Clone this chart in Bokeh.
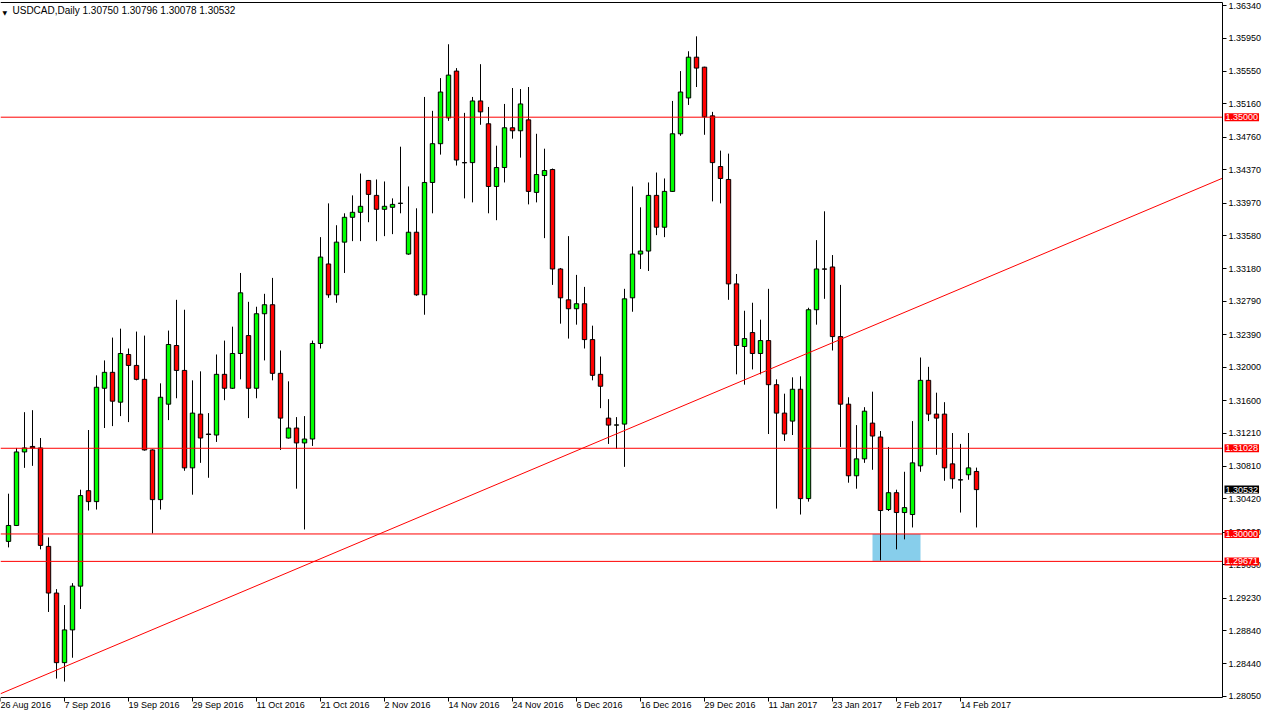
import pandas as pd
from bokeh.plotting import figure
from bokeh.models import FixedTicker, PrintfTickFormatter, Label, ColumnDataSource
from bokeh.embed import file_html
from bokeh.resources import INLINE

# ---------------- data ----------------
chart_title = "USDCAD,Daily  1.30750 1.30796 1.30078 1.30532"

opens = [1.29911, 1.30102, 1.30984, 1.31050, 1.31032, 1.29851, 1.29291, 1.28456, 1.28849, 1.29374,
         1.30519, 1.30388, 1.31748, 1.31939, 1.31581, 1.32153, 1.32022, 1.31855, 1.31008, 1.30412,
         1.31557, 1.32261, 1.31962, 1.30793, 1.31438, 1.31199, 1.31187, 1.31915, 1.31748, 1.32165,
         1.32380, 1.31748, 1.32642, 1.32750, 1.31927, 1.31151, 1.31271, 1.31092, 1.31139, 1.32285,
         1.33239, 1.32869, 1.33501, 1.33799, 1.33859, 1.34241, 1.34062, 1.33895, 1.33919, 1.33966,
         1.33358, 1.33620, 1.32869, 1.34217, 1.34682, 1.34992, 1.35553, 1.34455, 1.34455, 1.35195,
         1.34921, 1.34169, 1.34396, 1.34873, 1.34837, 1.34968, 1.34098, 1.34300, 1.34372, 1.33179,
         1.32809, 1.32702, 1.32762, 1.32332, 1.31915, 1.31390, 1.31306, 1.31318, 1.32833, 1.33358,
         1.33394, 1.34062, 1.33680, 1.34110, 1.34801, 1.35231, 1.35720, 1.35600, 1.35016, 1.34408,
         1.34253, 1.33000, 1.32249, 1.32416, 1.32165, 1.32320, 1.31791, 1.31450, 1.31354, 1.31736,
         1.30424, 1.32690, 1.33179, 1.33203, 1.32368, 1.31557, 1.30698, 1.30901, 1.31330, 1.31163,
         1.30293, 1.30495, 1.30257, 1.30233, 1.30817, 1.31843, 1.31438, 1.31438, 1.30841, 1.30650,
         1.30710, 1.30750]

highs = [1.30483, 1.31032, 1.31461, 1.31485, 1.31151, 1.29959, 1.29338, 1.29147, 1.29410, 1.30531,
         1.31247, 1.31903, 1.32082, 1.32356, 1.32463, 1.32225, 1.32428, 1.32380, 1.31015, 1.31807,
         1.32440, 1.32809, 1.32690, 1.31843, 1.31951, 1.31450, 1.32153, 1.32320, 1.32487, 1.33131,
         1.32785, 1.32726, 1.32881, 1.33072, 1.32201, 1.31831, 1.31402, 1.31414, 1.32320, 1.33561,
         1.33966, 1.33704, 1.33847, 1.34062, 1.34324, 1.34247, 1.34253, 1.34229, 1.34026, 1.34646,
         1.34169, 1.33907, 1.35243, 1.35076, 1.35469, 1.35875, 1.35589, 1.35052, 1.35243, 1.35636,
         1.35123, 1.34658, 1.35159, 1.35350, 1.35338, 1.35362, 1.34801, 1.34622, 1.34384, 1.33191,
         1.33573, 1.33108, 1.32964, 1.32499, 1.32129, 1.31617, 1.31402, 1.32941, 1.34169, 1.33919,
         1.34217, 1.34336, 1.34265, 1.35195, 1.35553, 1.35791, 1.35970, 1.35605, 1.35064, 1.34599,
         1.34563, 1.33119, 1.32678, 1.32774, 1.32571, 1.32941, 1.31855, 1.31683, 1.31879, 1.31891,
         1.32714, 1.33525, 1.33871, 1.33346, 1.32988, 1.31640, 1.31306, 1.31521, 1.31707, 1.31235,
         1.31044, 1.30531, 1.30746, 1.31354, 1.32117, 1.32005, 1.31695, 1.31581, 1.31211, 1.31080,
         1.31211, 1.30796]

lows = [1.29839, 1.30095, 1.30793, 1.30817, 1.29815, 1.29064, 1.28265, 1.28229, 1.28515, 1.29100,
        1.30281, 1.30293, 1.31271, 1.31294, 1.31414, 1.31342, 1.31843, 1.31000, 1.30006, 1.30293,
        1.31366, 1.31628, 1.30758, 1.30471, 1.30853, 1.30674, 1.31104, 1.31605, 1.31740, 1.31855,
        1.31390, 1.31628, 1.32082, 1.31843, 1.31008, 1.31145, 1.30543, 1.30054, 1.31056, 1.32225,
        1.32833, 1.32774, 1.33131, 1.33513, 1.33513, 1.33740, 1.33513, 1.33573, 1.33597, 1.33847,
        1.33350, 1.32857, 1.32630, 1.33847, 1.34551, 1.34956, 1.34420, 1.34026, 1.33978, 1.34909,
        1.33847, 1.33764, 1.34217, 1.34742, 1.34515, 1.33954, 1.33978, 1.33549, 1.32988, 1.32523,
        1.32344, 1.32511, 1.32225, 1.31843, 1.31509, 1.31080, 1.31020, 1.30805, 1.32666, 1.33179,
        1.33155, 1.33585, 1.33561, 1.34104, 1.34777, 1.35147, 1.35362, 1.34789, 1.33990, 1.33966,
        1.32809, 1.31915, 1.31791, 1.31974, 1.31915, 1.31199, 1.30304, 1.31116, 1.31187, 1.30233,
        1.30388, 1.32511, 1.32821, 1.32201, 1.31044, 1.30615, 1.30543, 1.30853, 1.30770, 1.29684,
        1.30275, 1.29815, 1.29935, 1.30078, 1.30746, 1.31354, 1.30949, 1.30638, 1.30543, 1.30257,
        1.30650, 1.30078]

closes = [1.30102, 1.30984, 1.31032, 1.31032, 1.29863, 1.29291, 1.28456, 1.28849, 1.29374, 1.30460,
          1.30388, 1.31760, 1.31939, 1.31593, 1.32165, 1.32022, 1.31855, 1.31008, 1.30412, 1.31640,
          1.32273, 1.31962, 1.30793, 1.31450, 1.31151, 1.31193, 1.31915, 1.31748, 1.32165, 1.32893,
          1.31748, 1.32642, 1.32750, 1.31927, 1.31390, 1.31271, 1.31092, 1.31139, 1.32285, 1.33322,
          1.32869, 1.33501, 1.33799, 1.33859, 1.33931, 1.34074, 1.33895, 1.33931, 1.33954, 1.33968,
          1.33620, 1.32869, 1.34217, 1.34682, 1.35302, 1.35505, 1.34486, 1.34453, 1.35195, 1.35064,
          1.34169, 1.34396, 1.34873, 1.34837, 1.35159, 1.34110, 1.34312, 1.34360, 1.33179, 1.32833,
          1.32702, 1.32762, 1.32332, 1.31903, 1.31772, 1.31306, 1.31308, 1.32821, 1.33358, 1.33394,
          1.34062, 1.33680, 1.34110, 1.34801, 1.35302, 1.35720, 1.35589, 1.35004, 1.34455, 1.34265,
          1.33000, 1.32261, 1.32344, 1.32165, 1.32320, 1.31791, 1.31450, 1.31199, 1.31736, 1.30424,
          1.32690, 1.33179, 1.33177, 1.32368, 1.31557, 1.30698, 1.30901, 1.31473, 1.31175, 1.30281,
          1.30495, 1.30257, 1.30316, 1.30853, 1.31843, 1.31438, 1.31390, 1.30793, 1.30662, 1.30648,
          1.30793, 1.30532]

# trading days: the first one (26 Aug 2016) is the bar just left of the first drawn candle
holidays = ["2016-12-26", "2017-01-02"]
trade_days = [d for d in pd.bdate_range("2016-08-26", "2017-02-16")
              if d.strftime("%Y-%m-%d") not in holidays]
date_text = [f"{d.day} {d.strftime('%b %Y')}" for d in trade_days]

date_tick_labels = ["26 Aug 2016", "7 Sep 2016", "19 Sep 2016", "29 Sep 2016", "11 Oct 2016",
                    "21 Oct 2016", "2 Nov 2016", "14 Nov 2016", "24 Nov 2016", "6 Dec 2016",
                    "16 Dec 2016", "29 Dec 2016", "11 Jan 2017", "23 Jan 2017", "2 Feb 2017",
                    "14 Feb 2017"]

price_ticks = [1.28050, 1.28440, 1.28840, 1.29230, 1.29630, 1.30020, 1.30420, 1.30810, 1.31210,
               1.31600, 1.32000, 1.32390, 1.32790, 1.33180, 1.33580, 1.33970, 1.34370, 1.34760,
               1.35160, 1.35550, 1.35950, 1.36340]

level_lines = [1.35000, 1.31028, 1.30000, 1.29671]
last_price = 1.30532

zone_days = ["30 Jan 2017", "7 Feb 2017"]
zone_prices = [1.29671, 1.30000]

# trendline anchor points: (bar position, price)
trend_x = [0.375, 154.875]
trend_y = [1.28098, 1.34354]

# visible price window of the chart (top border / bottom border) and canvas extent
window_top, window_bottom = 1.36376, 1.28038
canvas_top, canvas_bottom = 1.36400, 1.27882

# ---------------- layout / style ----------------
FONT = "Liberation Sans"
BULL = "#00FF00"
BEAR = "#FF0000"
LEVEL = "#FF0000"
FIG_W, FIG_H = 1262, 710
BAR_PX = 8
x_start = 0.0
x_end = x_start + FIG_W / BAR_PX
scale_x = x_start + 1222 / BAR_PX      # where the price scale sits

bar_x = list(range(1, len(opens) + 1))
src = ColumnDataSource(dict(
    x=bar_x, o=opens, h=highs, l=lows, c=closes,
    top=[max(a, b) for a, b in zip(opens, closes)],
    bottom=[min(a, b) for a, b in zip(opens, closes)],
    color=[BULL if c >= o else BEAR for o, c in zip(opens, closes)],
))

p = figure(width=FIG_W, height=FIG_H,
           x_range=(x_start, x_end), y_range=(canvas_bottom, canvas_top),
           y_axis_location="right", output_backend="svg", toolbar_location=None,
           min_border=0, background_fill_color="white", border_fill_color="white")
p.xgrid.visible = False
p.ygrid.visible = False
p.outline_line_color = None

# support zone (behind candles)
p.quad(left=[date_text.index(zone_days[0])], right=[date_text.index(zone_days[1])],
       bottom=[zone_prices[0]], top=[zone_prices[1]], fill_color="#87CEEB", line_color=None)

# candles
p.segment(x0="x", y0="l", x1="x", y1="h", source=src, line_color="black", line_width=1)
p.vbar(x="x", width=0.55, top="top", bottom="bottom", source=src,
       fill_color="color", line_color="black", line_width=1)

# trendline, running up to the price scale
slope = (trend_y[1] - trend_y[0]) / (trend_x[1] - trend_x[0])
p.line(x=[x_start, scale_x],
       y=[trend_y[0] + slope * (x_start - trend_x[0]), trend_y[0] + slope * (scale_x - trend_x[0])],
       line_color=LEVEL, line_width=1)

# horizontal levels
p.segment(x0=[x_start] * len(level_lines), x1=[scale_x] * len(level_lines),
          y0=level_lines, y1=level_lines, line_color=LEVEL, line_width=1)

# top border of the chart window
p.segment(x0=[x_start], x1=[scale_x], y0=[window_top], y1=[window_top],
          line_color="black", line_width=1)

# bottom date axis (drawn at the window's lower border)
tick_pos = [date_text.index(t) for t in date_tick_labels]
xa = p.xaxis[0]
xa.fixed_location = window_bottom
xa.bounds = (x_start, scale_x)
xa.ticker = FixedTicker(ticks=tick_pos, minor_ticks=[])
xa.major_label_overrides = {pos: t for pos, t in zip(tick_pos, date_tick_labels)}
xa.major_label_orientation = -1e-6       # labels start at their tick, as in MT4
xa.major_label_text_font = FONT
xa.major_label_text_font_size = "9px"
xa.major_label_text_color = "black"
xa.major_tick_out = 4
xa.major_tick_in = 0
xa.minor_tick_out = 0
xa.minor_tick_in = 0
xa.major_label_standoff = 4
xa.axis_line_color = "black"
xa.major_tick_line_color = "black"

# right price scale
ya = p.yaxis[0]
ya.fixed_location = scale_x
ya.bounds = (window_bottom, window_top)
ya.ticker = FixedTicker(ticks=price_ticks, minor_ticks=[])
ya.formatter = PrintfTickFormatter(format="%.5f")
ya.major_label_text_font = FONT
ya.major_label_text_font_size = "9px"
ya.major_label_text_color = "black"
ya.major_tick_out = 4
ya.major_tick_in = 0
ya.minor_tick_out = 0
ya.minor_tick_in = 0
ya.major_label_standoff = 2
ya.axis_line_color = "black"
ya.major_tick_line_color = "black"

# price tags on the scale
for lv in level_lines:
    p.add_layout(Label(x=scale_x, y=lv, x_offset=2, text=f"{lv:.5f}",
                       text_align="left", text_baseline="middle",
                       text_font=FONT, text_font_size="9px", text_color="white",
                       background_fill_color="#FF0000", padding=1))
p.add_layout(Label(x=scale_x, y=last_price, x_offset=2, text=f"{last_price:.5f}",
                   text_align="left", text_baseline="middle",
                   text_font=FONT, text_font_size="9px", text_color="white",
                   background_fill_color="black", padding=1))

# chart title
p.add_layout(Label(x=x_start, y=window_top, x_offset=2, y_offset=-6,
                   text="\u25BC", text_align="left", text_baseline="top",
                   text_font="DejaVu Sans", text_font_size="6px", text_color="black"))
p.add_layout(Label(x=x_start, y=window_top, x_offset=12, y_offset=-2,
                   text=chart_title, text_align="left", text_baseline="top",
                   text_font=FONT, text_font_size="10px", text_color="black"))

open("out.html", "w").write(file_html(p, INLINE))
